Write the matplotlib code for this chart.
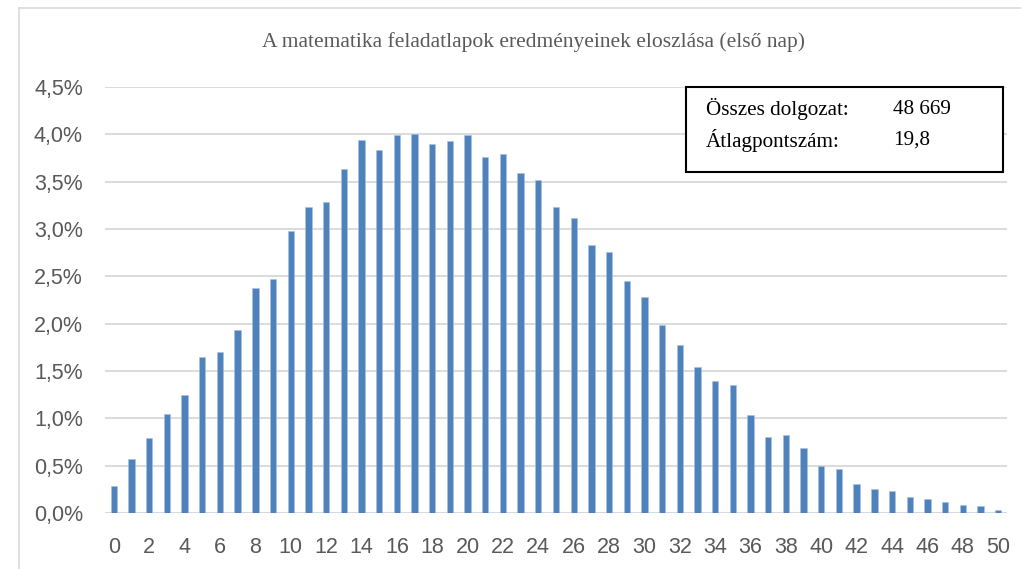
import matplotlib
matplotlib.use("Agg")
import matplotlib.pyplot as plt
import numpy as np

# pontszamok es arányok (%)
pontok = list(range(0, 51))
arany = [0.29, 0.57, 0.79, 1.05, 1.25, 1.65, 1.70, 1.93, 2.38, 2.47,
         2.98, 3.23, 3.28, 3.63, 3.94, 3.83, 3.99, 4.00, 3.90, 3.93,
         3.99, 3.76, 3.79, 3.59, 3.52, 3.23, 3.12, 2.83, 2.76, 2.45,
         2.28, 1.99, 1.77, 1.54, 1.39, 1.35, 1.04, 0.80, 0.82, 0.69,
         0.50, 0.46, 0.31, 0.25, 0.23, 0.17, 0.15, 0.12, 0.08, 0.075, 0.03]
y_ticks = [0, 0.5, 1.0, 1.5, 2.0, 2.5, 3.0, 3.5, 4.0, 4.5]
x_ticks = list(range(0, 51, 2))
cim = "A matematika feladatlapok eredményeinek eloszlása (első nap)"
info_cimkek = ["Összes dolgozat:", "Átlagpontszám:"]
info_ertekek = ["48 669", "19,8"]

W, H = 1021, 569
fig = plt.figure(figsize=(W / 100, H / 100), dpi=100)

# outer chart border (top + left only visible)
fig.add_artist(plt.Line2D([19 / W, 1], [1 - 8 / H, 1 - 8 / H], color="#d9d9d9", lw=1.2))
fig.add_artist(plt.Line2D([19 / W, 19 / W], [0, 1 - 8 / H], color="#d9d9d9", lw=1.2))

ax = fig.add_axes([105 / W, 1 - 513 / H, (1007 - 105) / W, (513 - 87) / H])
ax.bar(pontok, arany, width=0.36, color="#4f81bd", edgecolor="#a9c1e0", linewidth=0.4, zorder=3)
ax.set_xlim(-0.5, 50.5)
ax.set_ylim(0, 4.5)
ax.set_yticks(y_ticks)
ax.set_yticklabels([("%.1f%%" % v).replace(".", ",") for v in y_ticks])
ax.set_xticks(x_ticks)
ax.set_xticklabels([str(v) for v in x_ticks])
for s in ax.spines.values():
    s.set_visible(False)
ax.grid(axis="y", color="#d9d9d9", lw=1.3, zorder=0)
ax.axhline(0, color="#d9d9d9", lw=1.5, zorder=2)
ax.tick_params(length=0, labelsize=15.5, labelcolor="#595959")
ax.tick_params(axis="x", pad=17)
ax.tick_params(axis="y", pad=16)
for lab in ax.get_xticklabels() + ax.get_yticklabels():
    lab.set_family("Liberation Sans")

fig.text(533 / W, 1 - 42 / H, cim, ha="center", va="center",
         family="Liberation Serif", fontsize=15.5, color="#595959")

# info box
fig.add_artist(plt.Rectangle((686 / W, 1 - 172 / H), (1003 - 686) / W, (172 - 87) / H,
                             fill=True, facecolor="white", edgecolor="black", lw=1.5,
                             transform=fig.transFigure, zorder=5))
for i in range(2):
    yy = 1 - (109 + 31 * i) / H
    fig.text(706 / W, yy, info_cimkek[i], ha="left", va="center",
             family="Liberation Serif", fontsize=15.2, color="black", zorder=6)
    fig.text(893 / W, yy, info_ertekek[i], ha="left", va="center",
             family="Liberation Serif", fontsize=15.2, color="black", zorder=6)

fig.savefig("out.png", dpi=100)
